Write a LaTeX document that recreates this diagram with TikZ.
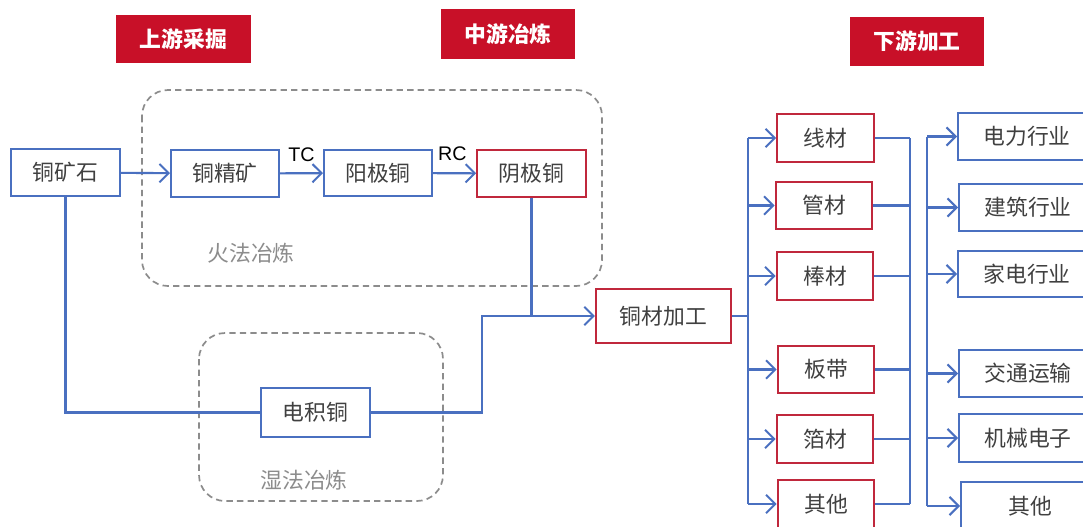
\documentclass[tikz,border=0pt]{standalone}
\usepackage{fontspec}
\setmainfont{Liberation Sans}
\newfontfamily\cjk{Noto Sans CJK SC}
\definecolor{lineblue}{RGB}{74, 112, 192}
\definecolor{boxred}{RGB}{192, 40, 60}
\definecolor{headred}{RGB}{200, 16, 40}
\definecolor{dashgray}{RGB}{140, 140, 140}
\definecolor{textgray}{RGB}{64, 64, 64}
\usetikzlibrary{arrows.meta, calc}

\tikzset{
  flowbox/.style={draw, line width=1.4pt, fill=white, text=textgray, inner sep=0pt,
    font=\cjk\fontsize{15.5}{18}\selectfont},
  bluebox/.style={flowbox, draw=lineblue},
  redbox/.style={flowbox, draw=boxred},
  header/.style={fill=headred, text=white, inner sep=0pt, minimum width=3.35cm,
    minimum height=1.22cm, font=\cjk\bfseries\fontsize{15.5}{18}\selectfont},
  stage/.style={draw=dashgray, line width=1.2pt, dash pattern=on 4.5pt off 3pt, rounded corners=0.65cm},
  stagelabel/.style={text=dashgray, font=\cjk\fontsize{15.5}{18}\selectfont},
  flow/.style={draw=lineblue, line width=1.5pt},
  flowarrow/.style={flow, -{Straight Barb[length=6.5pt, width=13pt, line width=1.4pt]}}
}

\begin{document}
\begin{tikzpicture}[x=0.025cm, y=-0.025cm]
  \clip (0,0) rectangle (1083,526);
  \fill[white] (0,0) rectangle (1083,526);

  % Stage headers
  \node[header] (hup)   at (183.5, 39)  {上游采掘};
  \node[header, minimum height=1.25cm] (hmid) at (508, 34) {中游冶炼};
  \node[header] (hdown) at (917, 41.5) {下游加工};

  % Smelting areas
  \draw[stage] (142, 90) rectangle (602, 286);
  \draw[stage] (199, 333) rectangle (443, 501);
  \node[stagelabel] (fire) at (251, 253) {火法冶炼};
  \node[stagelabel] (wet)  at (304, 480) {湿法冶炼};

  % Upstream and smelting chain
  \node[bluebox, minimum width=2.72cm, minimum height=1.18cm] (ore)     at (65.5, 172.5) {铜矿石};
  \node[bluebox, minimum width=2.7cm, minimum height=1.18cm]  (conc)    at (225, 173.5)  {铜精矿};
  \node[bluebox, minimum width=2.7cm, minimum height=1.16cm]  (anode)   at (378, 173)    {阳极铜};
  \node[redbox, minimum width=2.72cm, minimum height=1.18cm]  (cathode) at (531.5, 173.5) {阴极铜};
  \node[bluebox, minimum width=2.72cm, minimum height=1.22cm] (ew)      at (315.5, 412.5) {电积铜};
  \node[redbox, minimum width=3.38cm, minimum height=1.35cm]  (proc)    at (663.5, 316)  {铜材加工};

  \draw[flowarrow] (ore) -- (conc);
  \draw[flowarrow] (conc) -- node[above=4pt, text=black, font=\fontsize{14}{16}\selectfont] (tc) {TC} (anode);
  \draw[flowarrow] (anode) -- node[above=5pt, pos=0.45, text=black, font=\fontsize{14}{16}\selectfont] (rc) {RC} (cathode);

  \draw[flow] (ore.south) |- (ew.west);
  \coordinate (wetjoin) at (482, 412.5);
  \draw[flowarrow] (ew.east) -- (wetjoin) |- (proc.west);
  \draw[flow] (cathode.south) -- (cathode.south |- proc.west);

  % Downstream products
  \node[redbox, minimum width=2.42cm, minimum height=1.2cm]  (wire)   at (825.5, 138)   {线材};
  \node[redbox, minimum width=2.42cm, minimum height=1.18cm] (tube)   at (824, 205.5)   {管材};
  \node[redbox, minimum width=2.42cm, minimum height=1.2cm]  (rod)    at (825, 276)     {棒材};
  \node[redbox, minimum width=2.42cm, minimum height=1.18cm] (strip)  at (826, 369.5)   {板带};
  \node[redbox, minimum width=2.42cm, minimum height=1.2cm]  (foil)   at (825, 439)     {箔材};
  \node[redbox, minimum width=2.42cm, minimum height=1.2cm]  (otherA) at (826, 504)     {其他};

  % End-use industries
  \node[bluebox, minimum width=3.45cm, minimum height=1.18cm] (power)   at (1027, 136.5) {电力行业};
  \node[bluebox, minimum width=3.45cm, minimum height=1.18cm] (build)   at (1028, 207.5) {建筑行业};
  \node[bluebox, minimum width=3.45cm, minimum height=1.16cm] (appl)    at (1027, 274)   {家电行业};
  \node[bluebox, minimum width=3.45cm, minimum height=1.18cm] (traffic) at (1028, 373.5) {交通运输};
  \node[bluebox, minimum width=3.45cm, minimum height=1.2cm]  (mach)    at (1028, 438)   {机械电子};
  \node[bluebox, minimum width=3.45cm, minimum height=1.18cm] (otherB)  at (1030, 506)   {其他};

  % Buses
  \coordinate (busL) at (748, 0);
  \coordinate (busM) at (910, 0);
  \coordinate (busR) at (927, 0);

  \draw[flow] (proc.east) -- (proc.east -| busL);
  \draw[flow] (busL |- wire.west) -- (busL |- otherA.west);
  \foreach \b in {wire, tube, rod, strip, foil, otherA}
    \draw[flowarrow] (busL |- \b.west) -- (\b.west);

  \foreach \b in {wire, tube, rod, strip, foil, otherA}
    \draw[flow] (\b.east) -- (busM |- \b.east);
  \draw[flow] (busM |- wire.east) -- (busM |- otherA.east);

  \draw[flow] (busR |- power.west) -- (busR |- otherB.west);
  \foreach \b in {power, build, appl, traffic, mach, otherB}
    \draw[flowarrow] (busR |- \b.west) -- (\b.west);
\end{tikzpicture}
\end{document}
